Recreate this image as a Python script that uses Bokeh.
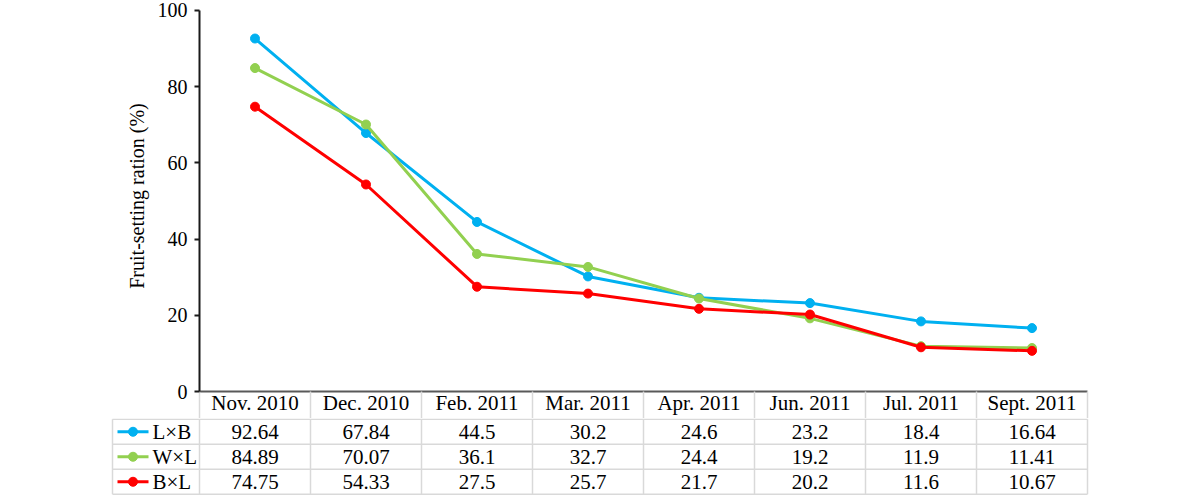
from bokeh.plotting import figure
from bokeh.models import Range1d, FixedTicker, ColumnDataSource
from bokeh.embed import file_html
from bokeh.resources import INLINE
from bokeh.core.properties import value

categories = ["Nov. 2010", "Dec. 2010", "Feb. 2011", "Mar. 2011", "Apr. 2011",
              "Jun. 2011", "Jul. 2011", "Sept. 2011"]
series_names = ["L×B", "W×L", "B×L"]
lxb = [92.64, 67.84, 44.5, 30.2, 24.6, 23.2, 18.4, 16.64]
wxl = [84.89, 70.07, 36.1, 32.7, 24.4, 19.2, 11.9, 11.41]
bxl = [74.75, 54.33, 27.5, 25.7, 21.7, 20.2, 11.6, 10.67]
y_ticks = [0, 20, 40, 60, 80, 100]
colors = ["#00b0f0", "#92d050", "#ff0000"]
series = [lxb, wxl, bxl]

FONT = "Liberation Serif"
TABLE_FS = "21px"
W = 1200
H1, H2 = 418, 77
LEFT1, RIGHT1 = 199, 113
LEFT2, RIGHT2 = 110, 111
n = len(categories)
CAT_PX = (W - LEFT1 - RIGHT1) / n
LEG_W = 87 / CAT_PX
GRID = "#d9d9d9"
centers = [i + 0.5 for i in range(n)]
bounds = list(range(n + 1))

# ---------- chart (with header row as x-axis labels) ----------
p1 = figure(width=W, height=H1, x_range=Range1d(0, n),
            y_range=Range1d(0, 102.62), output_backend="svg", toolbar_location=None,
            min_border_left=LEFT1, min_border_right=RIGHT1,
            min_border_top=0, min_border_bottom=27)
p1.outline_line_color = None
p1.grid.visible = False

ya = p1.yaxis[0]
ya.ticker = FixedTicker(ticks=y_ticks)
ya.bounds = (0, 100)
ya.minor_tick_line_color = None
ya.major_tick_out = 5
ya.major_tick_in = 0
ya.major_tick_line_width = 2
ya.major_tick_line_color = "#1a1a1a"
ya.axis_line_width = 2
ya.axis_line_color = "#1a1a1a"
ya.major_label_text_font = FONT
ya.major_label_text_font_size = "20px"
ya.major_label_text_color = "black"
ya.major_label_standoff = 7
ya.axis_label = "Fruit-setting ration (%)"
ya.axis_label_text_font = FONT
ya.axis_label_text_font_size = "20px"
ya.axis_label_text_font_style = "normal"
ya.axis_label_text_color = "black"
ya.axis_label_standoff = 7

xa = p1.xaxis[0]
xa.ticker = FixedTicker(ticks=centers, minor_ticks=bounds)
xa.major_label_overrides = {c: lab for c, lab in zip(centers, categories)}
xa.major_label_text_font = FONT
xa.major_label_text_font_size = TABLE_FS
xa.major_label_text_color = "black"
xa.major_label_standoff = -28
xa.major_tick_out = 0
xa.major_tick_in = 0
xa.major_tick_line_color = None
xa.minor_tick_out = 27
xa.minor_tick_in = 0
xa.minor_tick_line_color = GRID
xa.minor_tick_line_width = 1.5
xa.axis_line_width = 2
xa.axis_line_color = "#595959"

for name, vals, col in zip(series_names, series, colors):
    src = ColumnDataSource(dict(x=centers, y=vals))
    p1.line("x", "y", source=src, line_color=col, line_width=3)
    p1.scatter("x", "y", source=src, marker="circle", size=9,
               fill_color=col, line_color=col)

# ---------- data table rows ----------
p2 = figure(width=W, height=H2,
            x_range=Range1d(-LEG_W - 2 / CAT_PX, n + 2 / CAT_PX),
            y_range=Range1d(3.05, -0.03), output_backend="svg", toolbar_location=None,
            min_border_left=LEFT2, min_border_right=RIGHT2,
            min_border_top=0, min_border_bottom=0)
p2.outline_line_color = None
p2.grid.visible = False
p2.axis.visible = False

nrow = len(series)
hy = list(range(nrow + 1))
p2.segment(x0=[-LEG_W] * len(hy), y0=hy, x1=[n] * len(hy), y1=hy,
           line_color=GRID, line_width=1.5)
vx = [-LEG_W] + bounds
p2.segment(x0=vx, y0=[0] * len(vx), x1=vx, y1=[nrow] * len(vx),
           line_color=GRID, line_width=1.5)

for r, (name, vals, col) in enumerate(zip(series_names, series, colors)):
    yr = r + 0.5
    p2.text(x=centers, y=[yr] * n, text=[str(v) for v in vals],
            text_font=value(FONT), text_font_size=TABLE_FS,
            text_align="center", text_baseline="middle", text_color="black")
    lx0 = -LEG_W + 5 / CAT_PX
    lx1 = -LEG_W + 36 / CAT_PX
    p2.line(x=[lx0, lx1], y=[yr, yr], line_color=col, line_width=3)
    p2.scatter(x=[(lx0 + lx1) / 2], y=[yr], marker="circle", size=9,
               fill_color=col, line_color=col)
    p2.text(x=[-LEG_W + 40 / CAT_PX], y=[yr], text=[name], text_font=value(FONT),
            text_font_size=TABLE_FS, text_align="left", text_baseline="middle",
            text_color="black")

open("out.html", "w").write(file_html([p1, p2], INLINE))
